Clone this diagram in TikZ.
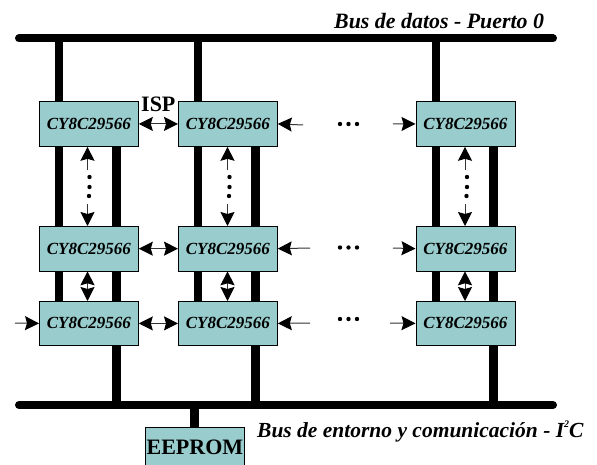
\documentclass[tikz,border=0pt]{standalone}
\usepackage{fontspec}
\setmainfont{Liberation Serif}
\usetikzlibrary{arrows.meta,calc}
\definecolor{chipfill}{HTML}{99CCCC}
\tikzset{
  chip/.style={draw=black,line width=0.8pt,fill=chipfill,minimum width=99pt,minimum height=45pt,inner sep=0pt,font=\fontsize{17}{17}\selectfont\bfseries\itshape,anchor=north west},
  bus/.style={line width=8pt,line cap=round,black},
  stem/.style={line width=8.5pt,black},
  tip/.tip={Stealth[length=14pt,width=14pt,inset=2pt,black]},
  sig/.style={line width=1pt,black!80,tip-tip},
  sigin/.style={line width=1pt,black!80,-tip},
  lab/.style={inner sep=0pt,font=\fontsize{21.5}{21.5}\selectfont\bfseries\itshape,anchor=base west},
  dotmark/.style={circle,fill=black,inner sep=0pt,minimum size=4.4pt}
}
\begin{document}
\begin{tikzpicture}[x=1pt,y=-1pt]
\useasboundingbox (0,0) rectangle (597,465);
% bus end points
\coordinate (tl) at (19,38.5); \coordinate (tr) at (553,38.5);
\coordinate (bl) at (19,405); \coordinate (br) at (553,405);
% chips
\foreach \c/\x in {1/39,2/178,3/415.5}{
  \foreach \r/\y/\h in {1/101/45,2/226/44.5,3/301/44}{
    \node[chip,minimum height=\h pt] (n\r\c) at (\x,\y) {CY8C29566};
  }
}
\node[chip,minimum height=40pt,font=\fontsize{22}{22}\selectfont\bfseries] (ee) at (145,427) {EEPROM};
\draw[bus] (tl) -- (tr);
\draw[bus] (bl) -- (br);
\foreach \c/\lx/\rx in {1/59/116.5,2/198/255.5,3/436/493.5}{
  \draw[stem] (n1\c.north west -| \lx,0) -- (\lx,38.5);
  \draw[stem] (n1\c.south west -| \lx,0) -- (n2\c.north west -| \lx,0);
  \draw[stem] (n1\c.south west -| \rx,0) -- (n2\c.north west -| \rx,0);
  \draw[stem] (n2\c.south west -| \lx,0) -- (n3\c.north west -| \lx,0);
  \draw[stem] (n2\c.south west -| \rx,0) -- (n3\c.north west -| \rx,0);
  \draw[stem] (n3\c.south west -| \rx,0) -- (\rx,405);
}
\draw[stem] (ee.north -| 194.5,0) -- (194.5,405);
% horizontal links
\foreach \r in {1,2,3}{
  \draw[sig] (n\r1.east) -- (n\r2.west);
}
\coordinate (a1) at (303,125); \coordinate (a2) at (310,248); \coordinate (a3) at (310,323);
\coordinate (b1) at (393,124); \coordinate (b2) at (393,248); \coordinate (b3) at (390,323);
\coordinate (c3) at (15,323);
\draw[sigin] (a1) -- (n12.east);
\draw[sigin] (a2) -- (n22.east);
\draw[sigin] (a3) -- (n32.east);
\draw[sigin] (b1) -- (n13.west);
\draw[sigin] (b2) -- (n23.west);
\draw[sigin] (b3) -- (n33.west);
\draw[sigin] (c3) -- (n31.west);
% vertical links
\foreach \c/\x in {1/87.5,2/227.5,3/465}{
  \draw[sigin] (\x,170) -- (n1\c.south -| \x,0);
  \draw[sigin] (\x,204) -- (n2\c.north -| \x,0);
  \draw[sig] (n2\c.south -| \x,0) -- (n3\c.north -| \x,0);
  \node[dotmark] (d1\c) at (\x+2,177) {};
  \node[dotmark] (d2\c) at (\x+2,187) {};
  \node[dotmark] (d3\c) at (\x+1.5,196) {};
}
% dots between columns
\foreach \n/\y in {1/124,2/247.5,3/319}{
  \node[dotmark] (h\n a) at (340,\y) {};
  \node[dotmark] (h\n b) at (348.5,\y) {};
  \node[dotmark] (h\n c) at (357,\y) {};
}
% labels
\node[lab,font=\fontsize{21.9}{22}\selectfont\bfseries\itshape] (t1) at (334,29) {Bus de datos - Puerto 0};
\node[lab,font=\fontsize{22}{22}\selectfont\bfseries] (t2) at (141,112) {ISP};
\node[lab] (t3) at (257,437) {Bus de entorno y comunicación - I\raisebox{0.45em}{\fontsize{10}{10}\selectfont 2}C};
\end{tikzpicture}
\end{document}
